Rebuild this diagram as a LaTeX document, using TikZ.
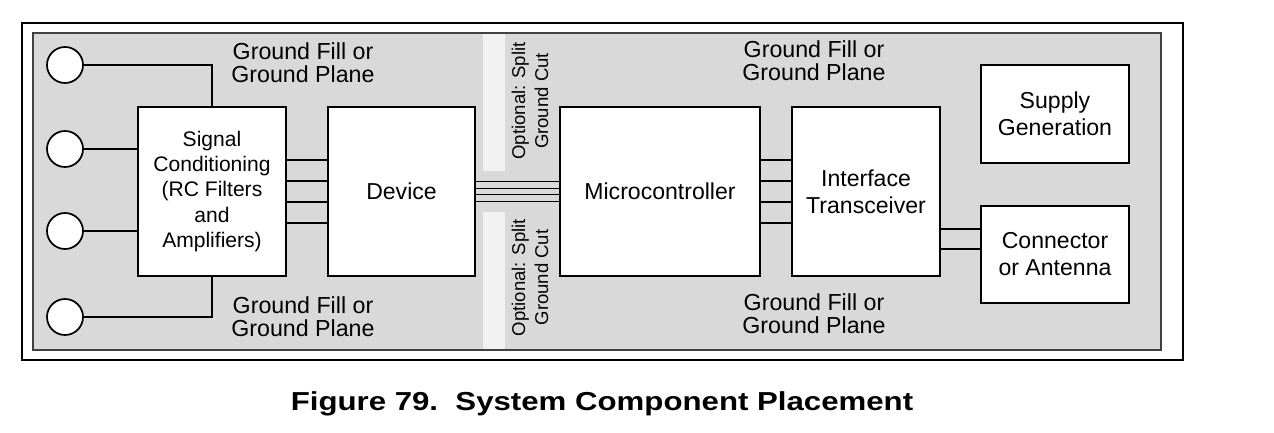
\documentclass[tikz,border=0pt]{standalone}
\usepackage{graphicx}
\usepackage{fontspec}
\setmainfont{Liberation Sans}
\definecolor{gris}{RGB}{217,217,217}
\definecolor{claro}{RGB}{242,242,242}
\begin{document}
\begin{tikzpicture}[x=0.75pt, y=-0.75pt,
        bloque/.style={draw, line width=1.5pt, fill=white, align=center,
            inner sep=0pt, minimum width=111pt, minimum height=126.75pt,
            font=\fontsize{17.3}{20.3}\selectfont},
        pin/.style={circle, draw, line width=1.3pt, fill=white,
            minimum size=27pt, inner sep=0pt},
        pista/.style={line width=1pt},
        rotulo/.style={align=center, inner sep=0pt,
            font=\fontsize{17.4}{17}\selectfont},
        corte/.style={rotate=90, align=center, inner sep=0pt,
            font=\fontsize{13.9}{17.2}\selectfont}]
    \useasboundingbox (0,0) rectangle (1274,432);
    % Placa
    \draw[line width=1.8pt] (22,23) rectangle (1183,360);
    \fill[gris] (33,33) rectangle (1161,350);
    \fill[claro] (483,33) rectangle (505,171);
    \fill[claro] (483,212) rectangle (505,350);
    \draw[line width=.8pt, black!75] (33,33) rectangle (1161,350);
    % Bloques
    \node[bloque, font=\fontsize{15.8}{19}\selectfont] (acond) at (212,191.5)
        {Signal\\Conditioning\\(RC Filters\\and\\Amplifiers)};
    \node[bloque, minimum width=110.25pt] (disp) at (401.5,191.5) {Device};
    \node[bloque, minimum width=150pt] (micro) at (660,191.5) {Microcontroller};
    \node[bloque] (trans) at (866,191.5) {Interface\\Transceiver};
    \node[bloque, minimum height=73.5pt] (fuente) at (1055,114)
        {Supply\\Generation};
    \node[bloque, minimum height=72.75pt] (conect) at (1055,254.5)
        {Connector\\or Antenna};
    % Entradas
    \foreach \y/\n in {65/1,149/2,231/3,317/4}
        \node[pin] (e\n) at (65,\y) {};
    \draw[pista] (e1.east) -| (acond.north);
    \draw[pista] (e2.east) -- (e2.east -| acond.west);
    \draw[pista] (e3.east) -- (e3.east -| acond.west);
    \draw[pista] (e4.east) -| (acond.south);
    % Buses
    \foreach \d in {-31.5,-10.5,10.5,31.5} {
        \draw[pista] ([shift={(0,\d)}]acond.east) -- ([shift={(0,\d)}]disp.west);
        \draw[pista] ([shift={(0,\d)}]micro.east) -- ([shift={(0,\d)}]trans.west);
    }
    \foreach \d in {-9.75,-3.25,3.25,9.75}
        \draw[pista] ([shift={(0,\d)}]disp.east) -- ([shift={(0,\d)}]micro.west);
    \foreach \d in {37.5,57.5}
        \draw[pista] ([shift={(0,\d)}]trans.east) coordinate (a) -- (a -| conect.west);
    % Textos
    \foreach \x/\y/\n in {303/63/1,303/317/2,814/61/3,814/314/4}
        \node[rotulo] (masa\n) at (\x,\y) {Ground Fill or\\Ground Plane};
    \node[corte] (corte1) at (530,101) {Optional: Split\\Ground Cut};
    \node[corte] (corte2) at (530,277.5) {Optional: Split\\Ground Cut};
    \node[anchor=base, font=\bfseries\fontsize{19.5}{22}\selectfont] (titulo)
        at (602,410) {\scalebox{1.2}[1]{Figure 79.~~System Component Placement}};
\end{tikzpicture}
\end{document}
